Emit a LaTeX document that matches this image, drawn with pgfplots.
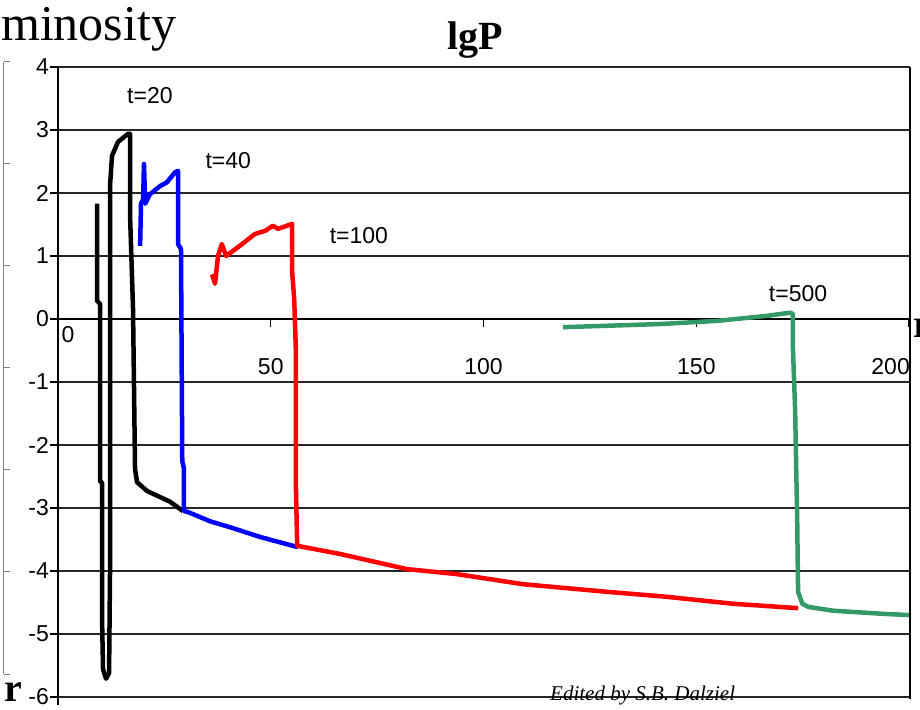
\documentclass[border=0pt]{standalone}
\usepackage{fontspec}
\setmainfont{Liberation Sans}
\newfontfamily\serif{Liberation Serif}
\usepackage{pgfplots}
\pgfplotsset{compat=1.18}
\definecolor{sgreen}{RGB}{51,153,102}
\begin{document}
\begin{tikzpicture}
\useasboundingbox (-58pt,-12pt) rectangle (862pt,697pt);
\clip (-58pt,-12pt) rectangle (862pt,697pt);
\begin{axis}[
  at={(0pt,0pt)}, anchor=south west, scale only axis,
  width=852pt, height=630pt,
  xmin=0, xmax=200.2, ymin=-6, ymax=4,
  axis x line=middle, axis y line=left,
  axis line style={-, line width=1.4pt, black},
  xtick={0,50,100,150,200}, xticklabels={},
  ytick={-6,-5,-4,-3,-2,-1,0,1,2,3,4},
  yticklabels={-6,-5,-4,-3,-2,-1,0,1,2,3,4},
  ymajorgrids, grid style={line width=1.4pt, black!85},
  tick style={line width=1.4pt, black},
  major tick length=8pt,
  tick align=outside,
  yticklabel style={font=\fontsize{23}{26}\selectfont, inner sep=1pt},
  clip=true,
]
\addplot[black, line width=4.5pt, line join=round] coordinates {
(9.17,1.83) (9.17,0.29) (9.87,0.24) (9.87,-2.57) (10.34,-2.6) (10.34,-4.71) (10.58,-5.56) (11.28,-5.71) (12.0,-5.62) (12.22,-4.05) (12.22,-0.48) (12.22,2.11) (12.69,2.59) (14.10,2.81) (16.45,2.94) (16.92,2.94) (16.92,1.67) (17.63,0.16) (18.10,-2.38) (18.57,-2.59) (20.92,-2.73) (26.32,-2.90) (29.38,-3.05)
};
\addplot[blue, line width=4.5pt, line join=round] coordinates {
(19.3,1.16) (19.5,1.83) (20.0,1.90) (20.2,2.46) (20.5,1.83) (21.6,1.98) (24.0,2.11) (25.6,2.17) (27.5,2.33) (28.2,2.35) (28.2,1.19) (28.9,1.11) (29.2,-2.25) (29.6,-2.38) (29.6,-3.05) (30.4,-3.06) (35.7,-3.21) (41.1,-3.32) (47.5,-3.46) (55.2,-3.60) (56.4,-3.62)
};
\addplot[red, line width=4.5pt, line join=round] coordinates {
(36.2,0.71) (36.9,0.56) (37.6,1.0) (38.5,1.19) (39.5,1.0) (42.3,1.14) (46.3,1.35) (48.7,1.40) (50.5,1.48) (51.7,1.43) (55.0,1.51) (55.0,0.76) (55.5,0.32) (55.9,-0.51) (55.9,-2.65) (56.2,-3.60) (66.3,-3.73) (82.0,-3.97) (93.8,-4.05) (109.3,-4.21) (129.0,-4.33) (143.1,-4.41) (158.6,-4.52) (173.9,-4.59)
};
\addplot[sgreen, line width=4.5pt, line join=round] coordinates {
(118.7,-0.13) (141.5,-0.08) (154.9,-0.03) (166.6,0.05) (172.0,0.10) (172.7,0.08) (172.7,-0.48) (173.2,-1.43) (173.7,-3.22) (173.9,-4.33) (174.9,-4.52) (176.3,-4.57) (182.1,-4.63) (193.9,-4.68) (200.2,-4.70)
};
\begin{scope}[font=\fontsize{23}{26}\selectfont]
\node at (axis cs:21.6,3.54) {t=20};
\node at (axis cs:40.0,2.52) {t=40};
\node at (axis cs:70.7,1.32) {t=100};
\node at (axis cs:173.9,0.40) {t=500};
\node at (axis cs:2.35,-0.24) {0};
\node at (axis cs:50,-0.76) {50};
\node at (axis cs:100,-0.76) {100};
\node at (axis cs:150,-0.76) {150};
\node[anchor=east, inner sep=0pt] at (axis cs:200.2,-0.76) {200};
\end{scope}
\end{axis}
\draw[line width=1.4pt, black] (852pt,-2pt) -- (852pt,630pt);
\draw[line width=1.4pt, black] (0pt,-8pt) -- (0pt,0pt);
\draw[gray, line width=1pt] (-54pt,23pt) -- (-54pt,635pt);
\foreach \yy in {23,125,227,329,431,533,635} \draw[gray, line width=1pt] (-54pt,\yy pt) -- (-48pt,\yy pt);
\node[anchor=base west, inner sep=0pt, font=\serif\fontsize{50}{56}\selectfont] at (-57pt,656pt) {minosity};
\node[anchor=base, inner sep=0pt, font=\serif\bfseries\fontsize{40}{44}\selectfont] at (417pt,647pt) {lgP};
\node[anchor=base, inner sep=0pt, font=\serif\bfseries\fontsize{40}{44}\selectfont] at (-45pt,-4pt) {r};
\node[anchor=base west, inner sep=0pt, font=\serif\bfseries\fontsize{40}{44}\selectfont] at (855pt,359pt) {r};
\node[anchor=base west, inner sep=0pt, font=\serif\itshape\fontsize{21}{24}\selectfont] at (492pt,-3pt) {Edited by S.B. Dalziel};
\end{tikzpicture}
\end{document}
